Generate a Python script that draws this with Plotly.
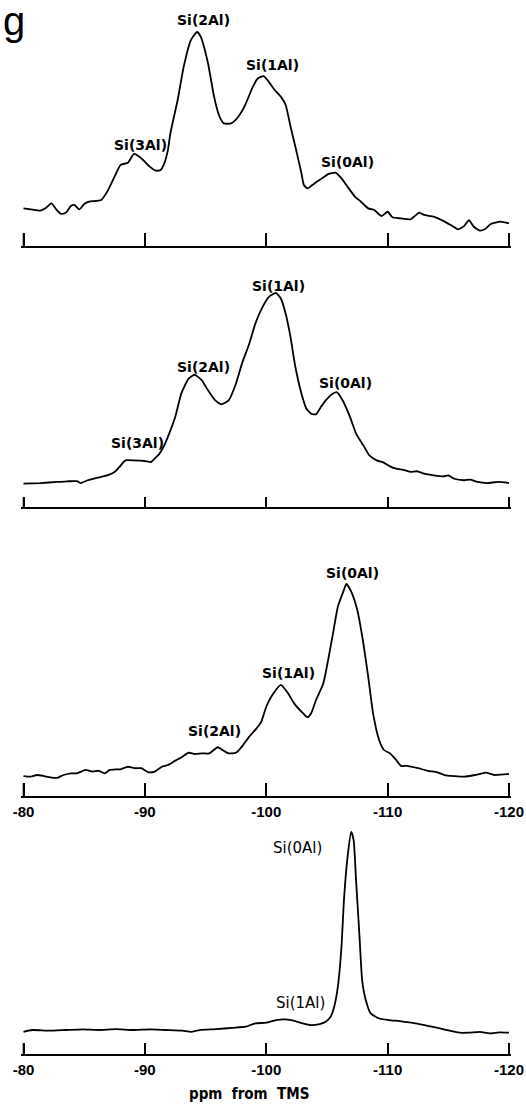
import plotly.graph_objects as go

W, H = 526, 1106

tick_vals = [-80, -90, -100, -110, -120]
tick_text = ["-80", "-90", "-100", "-110", "-120"]

# Panel 1 (top spectrum): chemical shift (ppm) and relative intensity
ppm_1 = [-80.0, -80.6, -81.4, -81.8, -82.3, -82.7, -83.1, -83.5, -83.9, -84.2, -84.6, -85.0, -85.4,
         -86.4, -86.9, -87.5, -88.0, -88.6, -89.1, -89.7, -90.4, -90.9, -91.3, -91.6, -91.9, -92.1,
         -92.7, -93.2, -93.8, -94.3, -94.6, -95.2, -95.7, -96.1, -96.5, -97.1, -97.6, -98.2, -98.9,
         -99.3, -99.8, -100.2, -100.7, -101.2, -101.6, -102.0, -102.4, -102.9, -103.1, -103.4, -103.8,
         -104.2, -104.6, -105.1, -105.7, -106.2, -106.7, -107.3, -107.8, -108.4, -108.9, -109.5,
         -110.0, -110.4, -111.1, -111.9, -112.6, -113.0, -113.8, -114.7, -115.2, -115.8, -116.3,
         -116.7, -117.1, -117.6, -118.0, -118.5, -119.3, -120.0]
int_1 = [17.6, 17.1, 16.5, 17.6, 19.9, 17.1, 15.0, 15.6, 18.7, 19.2, 17.1, 19.6, 20.7,
         21.5, 25.4, 32.4, 37.9, 38.9, 43.0, 41.0, 37.1, 35.2, 35.5, 38.6, 44.9, 52.6,
         68.2, 83.8, 96.3, 100.0, 97.8, 85.4, 69.8, 61.2, 57.3, 57.3, 59.7, 65.1, 74.5,
         78.3, 79.4, 76.8, 72.9, 69.8, 65.9, 55.8, 46.4, 34.0, 28.5, 26.9, 28.5,
         30.1, 31.6, 33.6, 34.3, 31.6, 27.7, 23.1, 20.7, 17.6, 16.8, 14.0,
         16.0, 13.4, 12.9, 12.5, 15.6, 14.5, 13.7, 11.4, 9.8, 7.8, 9.3,
         12.1, 9.0, 7.2, 7.8, 10.3, 11.4, 10.6]

# Panel 2
ppm_2 = [-80.0, -81.4, -82.8, -83.6, -84.4, -84.7, -85.3, -86.1, -86.9, -87.5, -87.9, -88.4, -89.1,
         -90.0, -90.5, -90.8, -91.2, -91.6, -92.0, -92.5, -93.0, -93.6, -94.1, -94.7, -95.2, -95.8,
         -96.3, -96.9, -97.5, -98.0, -98.6, -99.1, -99.7, -100.2, -100.8, -101.2, -101.6, -102.0,
         -102.4, -102.9, -103.3, -103.7, -104.1, -104.5, -104.9, -105.5, -105.8, -106.3, -106.9,
         -107.4, -108.0, -108.5, -109.1, -109.6, -110.2, -110.7, -111.3, -111.9, -112.4, -113.0,
         -113.8, -114.6, -115.0, -115.5, -116.3, -116.8, -117.4, -118.2, -119.1, -120.0]
int_2 = [10.9, 11.2, 11.7, 12.0, 12.1, 11.2, 12.5, 13.7, 14.8, 16.4, 18.7, 21.8, 21.8,
         21.5, 21.0, 22.6, 24.9, 28.8, 34.3, 42.1, 53.0, 60.0, 61.8, 59.2, 54.5, 49.8,
         48.0, 49.8, 57.6, 67.0, 76.3, 85.7, 93.5, 98.1, 100.0, 97.4, 90.3, 79.4,
         65.4, 53.0, 46.0, 43.6, 43.3, 46.7, 49.8, 53.0, 53.7, 49.8, 42.1,
         34.3, 28.8, 24.1, 21.8, 21.0, 19.0, 17.9, 17.4, 16.4, 16.7, 15.6,
         14.8, 14.3, 14.8, 13.2, 12.5, 12.8, 11.7, 11.2, 11.7, 11.2]

# Panel 3
ppm_3 = [-80.0, -80.6, -81.1, -81.7, -82.2, -82.8, -83.3, -83.9, -84.4, -85.1, -85.7, -86.2, -86.7,
         -87.1, -87.6, -88.0, -88.6, -89.2, -89.7, -90.3, -90.8, -91.4, -91.9, -92.5, -93.0, -93.6,
         -94.1, -94.7, -95.3, -96.0, -96.4, -96.9, -97.5, -98.0, -98.6, -99.2, -99.6, -100.0,
         -100.5, -101.2, -101.8, -102.3, -102.9, -103.4, -103.7, -104.1, -104.7, -105.1, -105.5,
         -105.9, -106.4, -106.6, -107.0, -107.5, -108.0, -108.4, -108.8, -109.3, -109.7, -110.2,
         -110.7, -111.1, -111.6, -112.5, -113.3, -114.1, -114.7, -115.5, -116.3, -117.2, -118.1,
         -118.8, -120.0]
int_3 = [9.4, 9.1, 9.9, 9.4, 8.8, 8.6, 9.9, 10.7, 10.7, 12.3, 11.5, 11.9, 10.7,
         12.3, 12.6, 12.6, 13.8, 13.1, 13.1, 11.2, 11.5, 13.8, 14.6, 16.7, 18.2, 20.4,
         19.8, 20.1, 20.1, 23.0, 21.7, 20.1, 20.4, 23.3, 28.0, 31.9, 35.1, 42.1,
         47.6, 52.4, 48.4, 43.7, 39.8, 37.1, 39.0, 45.3, 53.1, 64.2, 76.7,
         89.3, 97.2, 100.0, 96.4, 87.7, 72.0, 56.3, 39.0, 26.4, 21.7, 20.1,
         17.0, 14.2, 14.2, 13.1, 11.9, 11.2, 9.9, 9.4, 9.1, 9.9, 11.0,
         9.9, 10.4]

# Panel 4 (bottom spectrum)
ppm_4 = [-80.0, -80.7, -82.1, -83.5, -84.9, -86.2, -87.6, -89.0, -90.4, -91.7, -93.1, -93.8, -94.5,
         -95.9, -97.2, -98.3, -99.1, -100.0, -100.8, -101.6, -102.4, -103.0, -103.7, -104.4,
         -104.9, -105.3, -105.6, -105.9, -106.2, -106.4, -106.7, -107.0, -107.2, -107.4, -107.7,
         -107.9, -108.2, -108.6, -109.3, -110.1, -111.0, -111.8, -112.6, -113.4, -114.3, -115.1,
         -115.9, -116.7, -117.6, -118.4, -119.2, -120.0]
int_4 = [10.0, 10.8, 10.5, 10.8, 11.1, 10.8, 11.2, 10.8, 11.1, 10.8, 10.5, 10.0, 10.8,
         11.2, 11.8, 12.3, 13.8, 14.1, 15.3, 15.6, 14.8, 13.8, 13.0, 13.5,
         14.5, 16.8, 21.3, 30.3, 48.3, 69.3, 88.8, 100.0, 96.3, 78.3, 51.3,
         33.3, 24.3, 18.3, 16.0, 15.3, 14.8, 14.2, 13.5, 12.6, 11.5, 10.5,
         9.6, 9.6, 10.0, 9.3, 9.7, 9.6]

# Peak labels: (text, ppm, intensity)
labels_1 = [("Si(2Al)", -94.8, 105.6), ("Si(1Al)", -100.5, 84.6),
            ("Si(3Al)", -89.6, 47.2), ("Si(0Al)", -106.7, 39.3)]
labels_2 = [("Si(1Al)", -101.0, 103.3), ("Si(2Al)", -94.8, 65.4),
            ("Si(0Al)", -106.5, 57.9), ("Si(3Al)", -89.4, 29.9)]
labels_3 = [("Si(0Al)", -107.1, 105.2), ("Si(1Al)", -101.8, 58.0),
            ("Si(2Al)", -95.7, 30.7)]
labels_4 = [("Si(0Al)", -102.6, 92.8), ("Si(1Al)", -102.8, 23.0)]

# layout geometry (pixel positions of each panel's axis line and 100 % level)
panels = [
    dict(x=ppm_1, y=int_1, labels=labels_1, axis_px=246, peak_px=32, ticklen=13, showlab=False, bold=True),
    dict(x=ppm_2, y=int_2, labels=labels_2, axis_px=507, peak_px=293, ticklen=10, showlab=False, bold=True),
    dict(x=ppm_3, y=int_3, labels=labels_3, axis_px=796, peak_px=584, ticklen=13, showlab=True, bold=True),
    dict(x=ppm_4, y=int_4, labels=labels_4, axis_px=1054, peak_px=832, ticklen=11, showlab=True, bold=False),
]

YMAX = 112
EPS = 0.2                      # small padding so the end ticks are not dropped
X0_PX, X1_PX = 23.5, 509.0     # pixel positions of -80 and -120
PX_PER_PPM = (X1_PX - X0_PX) / 40.0
fig = go.Figure()
layout = dict(width=W, height=H, margin=dict(l=0, r=0, t=0, b=0, autoexpand=False),
              paper_bgcolor="white", plot_bgcolor="white", showlegend=False)
annotations = []
shapes = []
x_dom = [(X0_PX - EPS * PX_PER_PPM) / W, (X1_PX + EPS * PX_PER_PPM) / W]
tick_font = dict(family="Liberation Sans", size=15, color="black", weight="bold")

for i, p in enumerate(panels, start=1):
    sfx = "" if i == 1 else str(i)
    fig.add_trace(go.Scatter(x=p["x"], y=p["y"], mode="lines",
                             xaxis="x" + sfx, yaxis="y" + sfx,
                             line=dict(color="black", width=1.8, shape="spline", smoothing=0.5),
                             hoverinfo="skip"))
    scale = (p["axis_px"] - p["peak_px"]) / 100.0
    top_px = p["axis_px"] - YMAX * scale
    layout["xaxis" + sfx] = dict(domain=x_dom, range=[-80 + EPS, -120 - EPS], anchor="y" + sfx,
                                 automargin=False, ticklabeloverflow="allow",
                                 showline=True, linecolor="black", linewidth=1.5,
                                 ticks="inside", ticklen=p["ticklen"], tickwidth=1.6, tickcolor="black",
                                 tickvals=tick_vals, ticktext=tick_text, showticklabels=p["showlab"],
                                 tickfont=tick_font, ticklabelstandoff=1,
                                 showgrid=False, zeroline=False, fixedrange=True)
    layout["yaxis" + sfx] = dict(domain=[1 - p["axis_px"] / H, 1 - top_px / H], range=[0, YMAX],
                                 anchor="x" + sfx, visible=False, fixedrange=True, automargin=False)
    # end ticks of the scale bar (drawn explicitly so they are never dropped)
    for tv in (tick_vals[0], tick_vals[-1]):
        shapes.append(dict(type="line", xref="x" + sfx, yref="paper", x0=tv, x1=tv,
                           y0=1 - p["axis_px"] / H, y1=1 - (p["axis_px"] - p["ticklen"]) / H,
                           line=dict(color="black", width=1.6)))
    for text, lx, ly in p["labels"]:
        annotations.append(dict(text=("<b>%s</b>" % text) if p["bold"] else text,
                                x=lx, y=ly, xref="x" + sfx, yref="y" + sfx, showarrow=False,
                                font=dict(family="DejaVu Sans", size=14 if p["bold"] else 15,
                                          color="black")))

annotations.append(dict(text="g", x=1 / W, y=1, xref="paper", yref="paper", xanchor="left", yanchor="top",
                        yshift=3, showarrow=False,
                        font=dict(family="Liberation Sans", size=40, color="black")))
annotations.append(dict(text="<b>ppm\u00a0 from\u00a0 TMS</b>", x=249 / W, y=1 - 1094 / H,
                        xref="paper", yref="paper",
                        xanchor="center", yanchor="middle", showarrow=False,
                        font=dict(family="DejaVu Sans Condensed", size=15, color="black")))
layout["annotations"] = annotations
layout["shapes"] = shapes
fig.update_layout(**layout)
fig.write_html("out.html", config={"displayModeBar": False},
               post_script="document.body.style.margin='0';document.body.style.overflow='hidden';")
